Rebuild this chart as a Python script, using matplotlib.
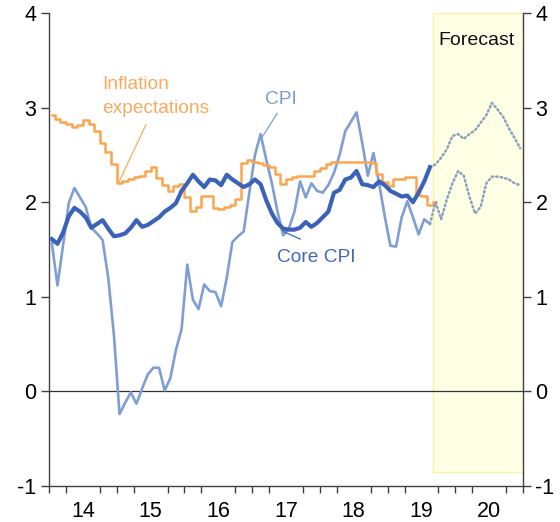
import numpy as np
import matplotlib.pyplot as plt
from matplotlib.patches import Rectangle

plt.rcParams['font.family'] = ['Liberation Sans', 'DejaVu Sans']

# monthly data, first month = Jan 2014
start_year = 2014

cpi = [1.57, 1.12, 1.55, 1.99, 2.15, 2.05, 1.95, 1.73, 1.67, 1.60, 1.20, 0.60,
       -0.24, -0.12, -0.01, -0.13, 0.03, 0.18, 0.25, 0.25, 0.01, 0.14, 0.44, 0.66,
       1.34, 0.97, 0.87, 1.13, 1.06, 1.05, 0.90, 1.20, 1.58, 1.64, 1.69, 2.10,
       2.50, 2.72, 2.45, 2.20, 1.90, 1.65, 1.72, 1.90, 2.22, 2.05, 2.20, 2.12,
       2.10, 2.18, 2.31, 2.50, 2.75, 2.85, 2.95, 2.63, 2.28, 2.52, 2.20, 1.85,
       1.54, 1.53, 1.84, 2.01, 1.84, 1.66, 1.82, 1.77]

core_cpi = [1.61, 1.56, 1.68, 1.85, 1.94, 1.90, 1.84, 1.73, 1.77, 1.81, 1.72, 1.64,
            1.65, 1.67, 1.73, 1.81, 1.74, 1.76, 1.80, 1.84, 1.90, 1.94, 1.99, 2.12,
            2.20, 2.29, 2.22, 2.16, 2.24, 2.23, 2.18, 2.29, 2.24, 2.20, 2.16, 2.19,
            2.24, 2.19, 2.02, 1.88, 1.78, 1.72, 1.71, 1.71, 1.73, 1.79, 1.74, 1.78,
            1.84, 1.90, 2.10, 2.13, 2.24, 2.26, 2.33, 2.19, 2.18, 2.16, 2.22, 2.18,
            2.12, 2.09, 2.06, 2.07, 2.00, 2.10, 2.22, 2.37]

infl_exp = [2.92, 2.88, 2.85, 2.83, 2.79, 2.82, 2.87, 2.83, 2.75, 2.63, 2.53, 2.40,
            2.20, 2.22, 2.24, 2.27, 2.28, 2.33, 2.37, 2.26, 2.18, 2.12, 2.17, 2.19,
            2.05, 1.91, 1.95, 2.07, 2.07, 1.94, 1.93, 1.95, 1.97, 2.03, 2.41, 2.45,
            2.43, 2.41, 2.39, 2.37, 2.30, 2.19, 2.24, 2.27, 2.28, 2.28, 2.28, 2.33,
            2.36, 2.40, 2.42, 2.43, 2.43, 2.43, 2.43, 2.43, 2.43, 2.41, 2.30, 2.21,
            2.17, 2.24, 2.25, 2.27, 2.27, 2.08, 2.07, 1.97, 2.00]

# forecasts start at the last actual month (Aug 2019)
fc_start = 67
fc_core = [2.37, 2.40, 2.47, 2.56, 2.70, 2.72, 2.67, 2.72, 2.76, 2.84, 2.92, 3.05,
           2.98, 2.90, 2.78, 2.68, 2.57]
fc_cpi = [1.77, 2.00, 1.82, 2.03, 2.20, 2.33, 2.28, 2.06, 1.88, 1.95, 2.20, 2.27,
          2.27, 2.26, 2.24, 2.20, 2.18]

year_labels = ['14', '15', '16', '17', '18', '19', '20']
y_ticks = [-1, 0, 1, 2, 3, 4]


def month_x(first, n):
    return start_year + (np.arange(first, first + n) + 0.5) / 12


fig = plt.figure(figsize=(5.6, 5.22), dpi=100)
ax = fig.add_axes([49 / 560, 36 / 522, 474 / 560, 473 / 522])

# forecast shading
fc_left = 2019 + 8 / 12
ax.add_patch(Rectangle((fc_left, -0.85), 2021 - fc_left, 4.85,
                       facecolor='#FFFFE6', edgecolor='#F7F2A6', lw=1.0, zorder=0.5))
ax.text(2020.31, 3.71, 'Forecast', ha='center', va='center', fontsize=14,
        color='#111111')

ax.axhline(0, color='#333333', lw=0.9, zorder=1)

ax.plot(month_x(0, len(cpi)), cpi, color='#7F9ED4', lw=1.9, zorder=2)
ax.plot(month_x(0, len(infl_exp)), infl_exp, color='#FAA64E', lw=1.8,
        drawstyle='steps-mid', zorder=3)
ax.plot(month_x(0, len(core_cpi)), core_cpi, color='#3A63B8', lw=3.0, zorder=4)

dots = dict(color='#8AA2BC', lw=1.8, linestyle=(0, (0.6, 1.2)),
            dash_capstyle='round', zorder=3)
ax.plot(month_x(fc_start, len(fc_core)), fc_core, **dots)
ax.plot(month_x(fc_start, len(fc_cpi)), fc_cpi, **dots)

# labels and leader lines
ax.text(2014.78, 3.12, 'Inflation\nexpectations', color='#F9AA5C', fontsize=13.8,
        ha='left', va='center', linespacing=1.55)
ax.plot([2015.43, 2015.03], [2.816, 2.21], color='#F9AA5C', lw=0.9)
ax.text(2017.19, 3.09, 'CPI', color='#7D9CD4', fontsize=13.8, ha='left', va='center')
ax.plot([2017.37, 2017.15], [2.94, 2.69], color='#7D9CD4', lw=0.9)
ax.text(2017.37, 1.42, 'Core CPI', color='#4169BA', fontsize=13.8, ha='left',
        va='center')
ax.plot([2017.46, 2017.71], [1.69, 1.61], color='#4169BA', lw=0.9)

ax.set_xlim(2014, 2021)
ax.set_ylim(-1, 4)
ax.set_yticks(y_ticks)
ax.set_yticklabels([str(t) for t in y_ticks])
ax.set_xticks([2014.5 + i for i in range(len(year_labels))])
ax.set_xticklabels(year_labels)
ax.set_xticks(np.arange(2014, 2021.01, 0.25), minor=True)

for side in ['left', 'right', 'bottom']:
    ax.spines[side].set_color('#404040')
    ax.spines[side].set_linewidth(1.0)
ax.spines['top'].set_visible(False)

ax.tick_params(axis='y', direction='out', length=6, width=1.0, color='#404040',
               left=True, right=True, labelleft=True, labelright=True,
               labelsize=15.5, pad=3)
ax.tick_params(axis='x', which='major', length=0, labelsize=15.5, pad=11)
ax.tick_params(axis='x', which='minor', direction='out', length=5, width=1.0,
               color='#404040')

fig.savefig('out.png', dpi=100)
